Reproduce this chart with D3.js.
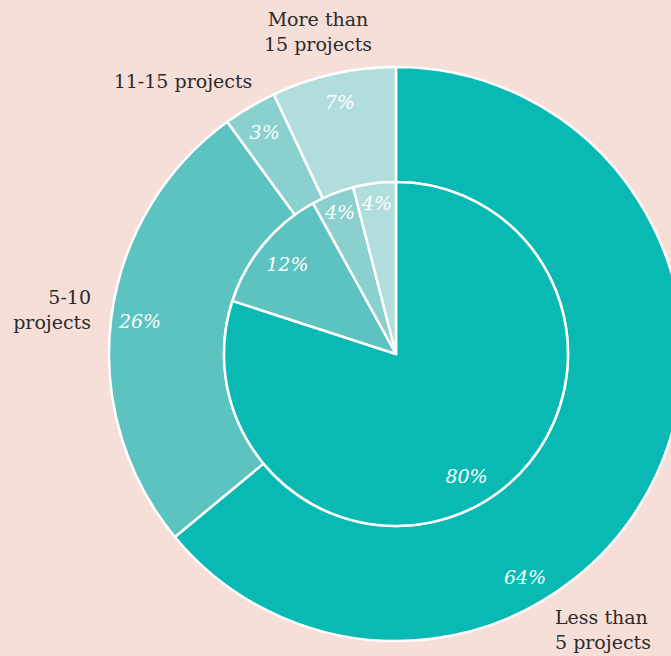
<!DOCTYPE html>
<html>
<head>
<meta charset="utf-8">
<script src="https://cdn.jsdelivr.net/npm/d3@7"></script>
<style>
  html, body { margin: 0; padding: 0; background: #f7dfd9; }
  svg { display: block; }
  .cat { font-family: "DejaVu Serif", serif; font-size: 19px; fill: #2b2b2b; }
  .pct { font-family: "DejaVu Serif", serif; font-style: italic; font-size: 19px; fill: #ffffff; }
</style>
</head>
<body>
<svg id="chart" width="671" height="656"></svg>
<script>
// Project-count groups, in clockwise order from 12 o'clock
const categories = ["Less than 5 projects", "5-10 projects", "11-15 projects", "More than 15 projects"];
// Outer ring and inner pie shares (%)
const outerValues = [64, 26, 3, 7];
const innerValues = [80, 12, 4, 4];
// Category label text, line by line
const labelLines = [["Less than", "5 projects"], ["5-10", "projects"], ["11-15 projects"], ["More than", "15 projects"]];

const colors = ["#08b9b4", "#5cc3c1", "#89d0ce", "#b1dedd"];

const width = 671, height = 656;
const cx = 396, cy = 354;
const rInner = 172, rOuter = 287;

const svg = d3.select("#chart");
svg.append("rect").attr("width", width).attr("height", height).attr("fill", "#f7dfd9");
const g = svg.append("g").attr("transform", `translate(${cx},${cy})`);

const color = d3.scaleOrdinal().domain(categories).range(colors);
const pie = d3.pie().sort(null).value(d => d.v);
const toData = vals => vals.map((v, i) => ({ cat: categories[i], v }));

const outerArcs = pie(toData(outerValues));
const innerArcs = pie(toData(innerValues));

const outerArc = d3.arc().innerRadius(rInner).outerRadius(rOuter);
const innerArc = d3.arc().innerRadius(0).outerRadius(rInner);

g.selectAll("path.outer").data(outerArcs).join("path")
  .attr("class", "outer")
  .attr("d", outerArc)
  .attr("fill", d => color(d.data.cat))
  .attr("stroke", "#fff").attr("stroke-width", 2.5).attr("stroke-linejoin", "round");

g.selectAll("path.inner").data(innerArcs).join("path")
  .attr("class", "inner")
  .attr("d", innerArc)
  .attr("fill", d => color(d.data.cat))
  .attr("stroke", "#fff").attr("stroke-width", 2.5).attr("stroke-linejoin", "round");

// Percent labels: centroid angle, except the dominant slice which is labelled lower-right
const bigLabelAngle = 150 * Math.PI / 180;
function labelPos(d, r) {
  const a = (d.endAngle - d.startAngle) > Math.PI ? bigLabelAngle : (d.startAngle + d.endAngle) / 2;
  return [r * Math.sin(a), -r * Math.cos(a)];
}
g.selectAll("text.opct").data(outerArcs).join("text")
  .attr("class", "pct opct")
  .attr("text-anchor", "middle").attr("dy", "0.35em")
  .attr("transform", d => `translate(${labelPos(d, 258)})`)
  .text(d => d.data.v + "%");

g.selectAll("text.ipct").data(innerArcs).join("text")
  .attr("class", "pct ipct")
  .attr("text-anchor", "middle").attr("dy", "0.35em")
  .attr("transform", d => `translate(${labelPos(d, (d.endAngle - d.startAngle) < 0.4 ? 152 : 141)})`)
  .text(d => d.data.v + "%");

// Category labels placed around the ring
const labelPlace = [
  { x: 555, y: 624, anchor: "start" },
  { x: 91, y: 304, anchor: "end" },
  { x: 183, y: 88, anchor: "middle" },
  { x: 318, y: 26, anchor: "middle" }
];
labelLines.forEach((lines, i) => {
  const p = labelPlace[i];
  const t = svg.append("text").attr("class", "cat")
    .attr("x", p.x).attr("y", p.y).attr("text-anchor", p.anchor);
  lines.forEach((line, j) => {
    t.append("tspan").attr("x", p.x).attr("dy", j === 0 ? 0 : 25).text(line);
  });
});
</script>
</body>
</html>
